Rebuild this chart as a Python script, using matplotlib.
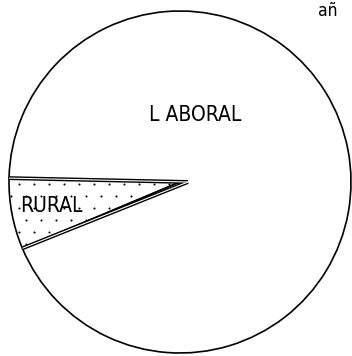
import matplotlib
matplotlib.use("Agg")
import matplotlib.pyplot as plt
import numpy as np

# Share of each sector (percent)
categories = ["RURAL", "LABORAL"]
values = [6.7, 93.3]
label_text = ["RURAL", "L ABORAL"]
corner_text = "añ"

W, H = 352, 356
fig = plt.figure(figsize=(W / 100, H / 100), dpi=100)
ax = fig.add_axes([0, 0, 1, 1])

cx, cy, r = 180, 174, 171
wedges, _ = ax.pie(values, startangle=178.7, counterclock=True,
                   center=(cx, cy), radius=r, frame=True,
                   colors=["white", "white"],
                   wedgeprops=dict(edgecolor="black", linewidth=1.2))
ax.set_xlim(0, W)
ax.set_ylim(0, H)
ax.axis("off")
ax.set_aspect("auto")

rural = wedges[0]

# sparse stipple texture inside the small sector
gx, gy = np.meshgrid(np.arange(4, 200, 15), np.arange(100, 200, 12))
gx = gx + (np.arange(gx.shape[0])[:, None] % 2) * 7
dots = ax.scatter(gx.ravel(), gy.ravel(), s=2.2, c="black", lw=0, zorder=3)
dots.set_clip_path(rural)

# double-ruled radial edges of the small sector
for ang in (rural.theta1, rural.theta2):
    t = np.deg2rad(ang)
    xs = [cx + 8, cx + r * np.cos(t)]
    ys = [cy, cy + r * np.sin(t)]
    ax.plot(xs, ys, color="black", lw=2.8, solid_capstyle="butt", zorder=5)
    ax.plot(xs, ys, color="white", lw=0.8, solid_capstyle="butt", zorder=6)

font = dict(family="DejaVu Sans", stretch="condensed", fontweight="light", color="black")
ax.text(195, H - 115, label_text[1], fontsize=15, ha="center", va="center", **font)
ax.text(51, H - 206, label_text[0], fontsize=15, ha="center", va="center", **font)
ax.text(318, H - 11, corner_text, fontsize=12.5, ha="left", va="center", **font)

fig.savefig("out.png", dpi=100)
